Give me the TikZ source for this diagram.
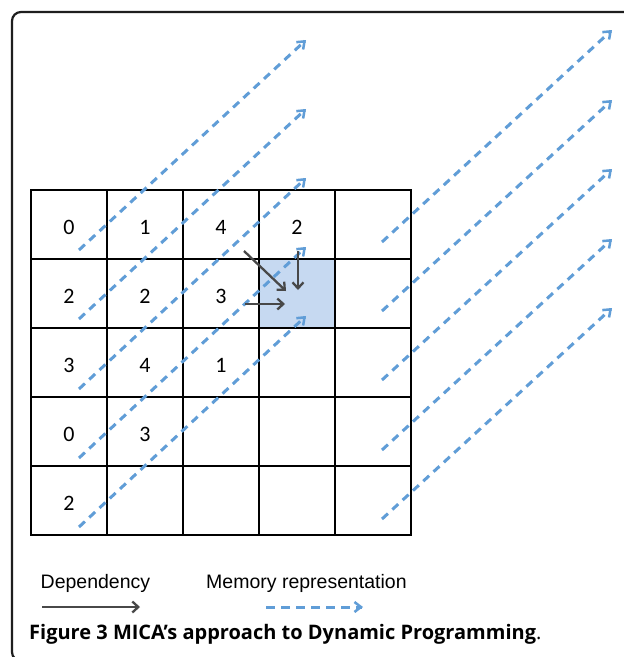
\documentclass[tikz,border=0pt]{standalone}
\usepackage{fontspec}
\setmainfont{Liberation Sans}
\newfontfamily\calib{Carlito}
\newfontfamily\capfont{Open Sans}
\usetikzlibrary{arrows.meta,calc}
\definecolor{memblue}{RGB}{96,157,215}
\definecolor{depgrey}{RGB}{72,72,72}
\definecolor{cellblue}{RGB}{198,217,241}
\definecolor{framecol}{RGB}{30,30,30}
\begin{document}
\begin{tikzpicture}[x=1pt,y=-1pt,
  cell/.style={draw=black, line width=1.3pt, minimum width=76pt, minimum height=69pt, inner sep=0pt, outer sep=0pt, anchor=north west},
  num/.style={font=\calib\fontsize{22}{22}\selectfont, inner sep=0pt},
  dep/.style={draw=depgrey, line width=2.3pt, -{Straight Barb[length=6pt,width=11pt,line width=2.3pt]}},
  memline/.style={draw=memblue, line width=3pt, dash pattern=on 8pt off 6pt, shorten >=3pt},
  memhead/.style={draw=memblue, line width=3pt, solid, -{Straight Barb[length=6.5pt,width=10pt,line width=2.5pt]}},
  legtext/.style={font=\fontsize{19.5}{20}\selectfont, anchor=base west, inner sep=0pt},
  captext/.style={font=\capfont\fontsize{20}{22}\selectfont, anchor=base west, inner sep=0pt}
]
\useasboundingbox (0,0) rectangle (624,657);
\clip (0,0) rectangle (624,657);
\fill[white] (0,0) rectangle (624,657);
% frame
\draw[framecol, line width=2.2pt, rounded corners=9pt] (12,12) rectangle (660,661);
% grid
\node[cell, fill=cellblue] (c13) at (259,259) {};
\foreach \r in {0,...,4}{
  \foreach \c in {0,...,4}{
    \node[cell] (c\r\c) at ({31+76*\c},{190+69*\r}) {};
  }
}
% numbers
\node[num] (n00) at ([yshift=-2.5pt]c00.center) {0};
\node[num] (n01) at ([yshift=-2.5pt]c01.center) {1};
\node[num] (n02) at ([yshift=-2.5pt]c02.center) {4};
\node[num] (n03) at ([yshift=-2.5pt]c03.center) {2};
\node[num] (n10) at ([yshift=-2.5pt]c10.center) {2};
\node[num] (n11) at ([yshift=-2.5pt]c11.center) {2};
\node[num] (n12) at ([yshift=-2.5pt]c12.center) {3};
\node[num] (n20) at ([yshift=-2.5pt]c20.center) {3};
\node[num] (n21) at ([yshift=-2.5pt]c21.center) {4};
\node[num] (n22) at ([yshift=-2.5pt]c22.center) {1};
\node[num] (n30) at ([yshift=-2.5pt]c30.center) {0};
\node[num] (n31) at ([yshift=-2.5pt]c31.center) {3};
\node[num] (n40) at ([yshift=-2.5pt]c40.center) {2};
% memory arrows (left group)
\foreach \k/\ys/\ye in {0/250/40, 1/319/109, 2/389/178, 3/458/247, 4/527/316}{
  \coordinate (ls\k) at (79,\ys);
  \coordinate (le\k) at (306,\ye);
  \draw[memline] (ls\k) -- (le\k);
  \draw[memhead] ($(le\k)!1.5pt!(ls\k)$) -- (le\k);
}
% memory arrows (right group)
\foreach \k/\ys/\ye in {0/242/30, 1/311/100, 2/380/169, 3/450/239, 4/519/308}{
  \coordinate (rs\k) at (382,\ys);
  \coordinate (re\k) at (612,\ye);
  \draw[memline] (rs\k) -- (re\k);
  \draw[memhead] ($(re\k)!1.5pt!(rs\k)$) -- (re\k);
}
% dependency arrows
\coordinate (d1s) at (244,251); \coordinate (d1e) at (286,291);
\coordinate (d2s) at (298,251); \coordinate (d2e) at (298,290);
\coordinate (d3s) at (245,304); \coordinate (d3e) at (285,304);
\draw[dep] (d1s) -- (d1e);
\draw[dep] (d2s) -- (d2e);
\draw[dep] (d3s) -- (d3e);
% legend
\node[legtext] (ldep) at (40.5,588) {Dependency};
\node[legtext] (lmem) at (206,588) {Memory representation};
\coordinate (lda) at (42,607); \coordinate (ldb) at (140,607);
\draw[dep] (lda) -- (ldb);
\coordinate (lma) at (266,607); \coordinate (lmb) at (363,607);
\draw[memline, dash pattern=on 9pt off 6pt] (lma) -- (lmb);
\draw[memhead] ($(lmb)!1.5pt!(lma)$) -- (lmb);
% caption
\node[captext] (cap) at (29,639) {\textbf{Figure 3 MICA’s approach to Dynamic Programming}.};
\end{tikzpicture}
\end{document}
